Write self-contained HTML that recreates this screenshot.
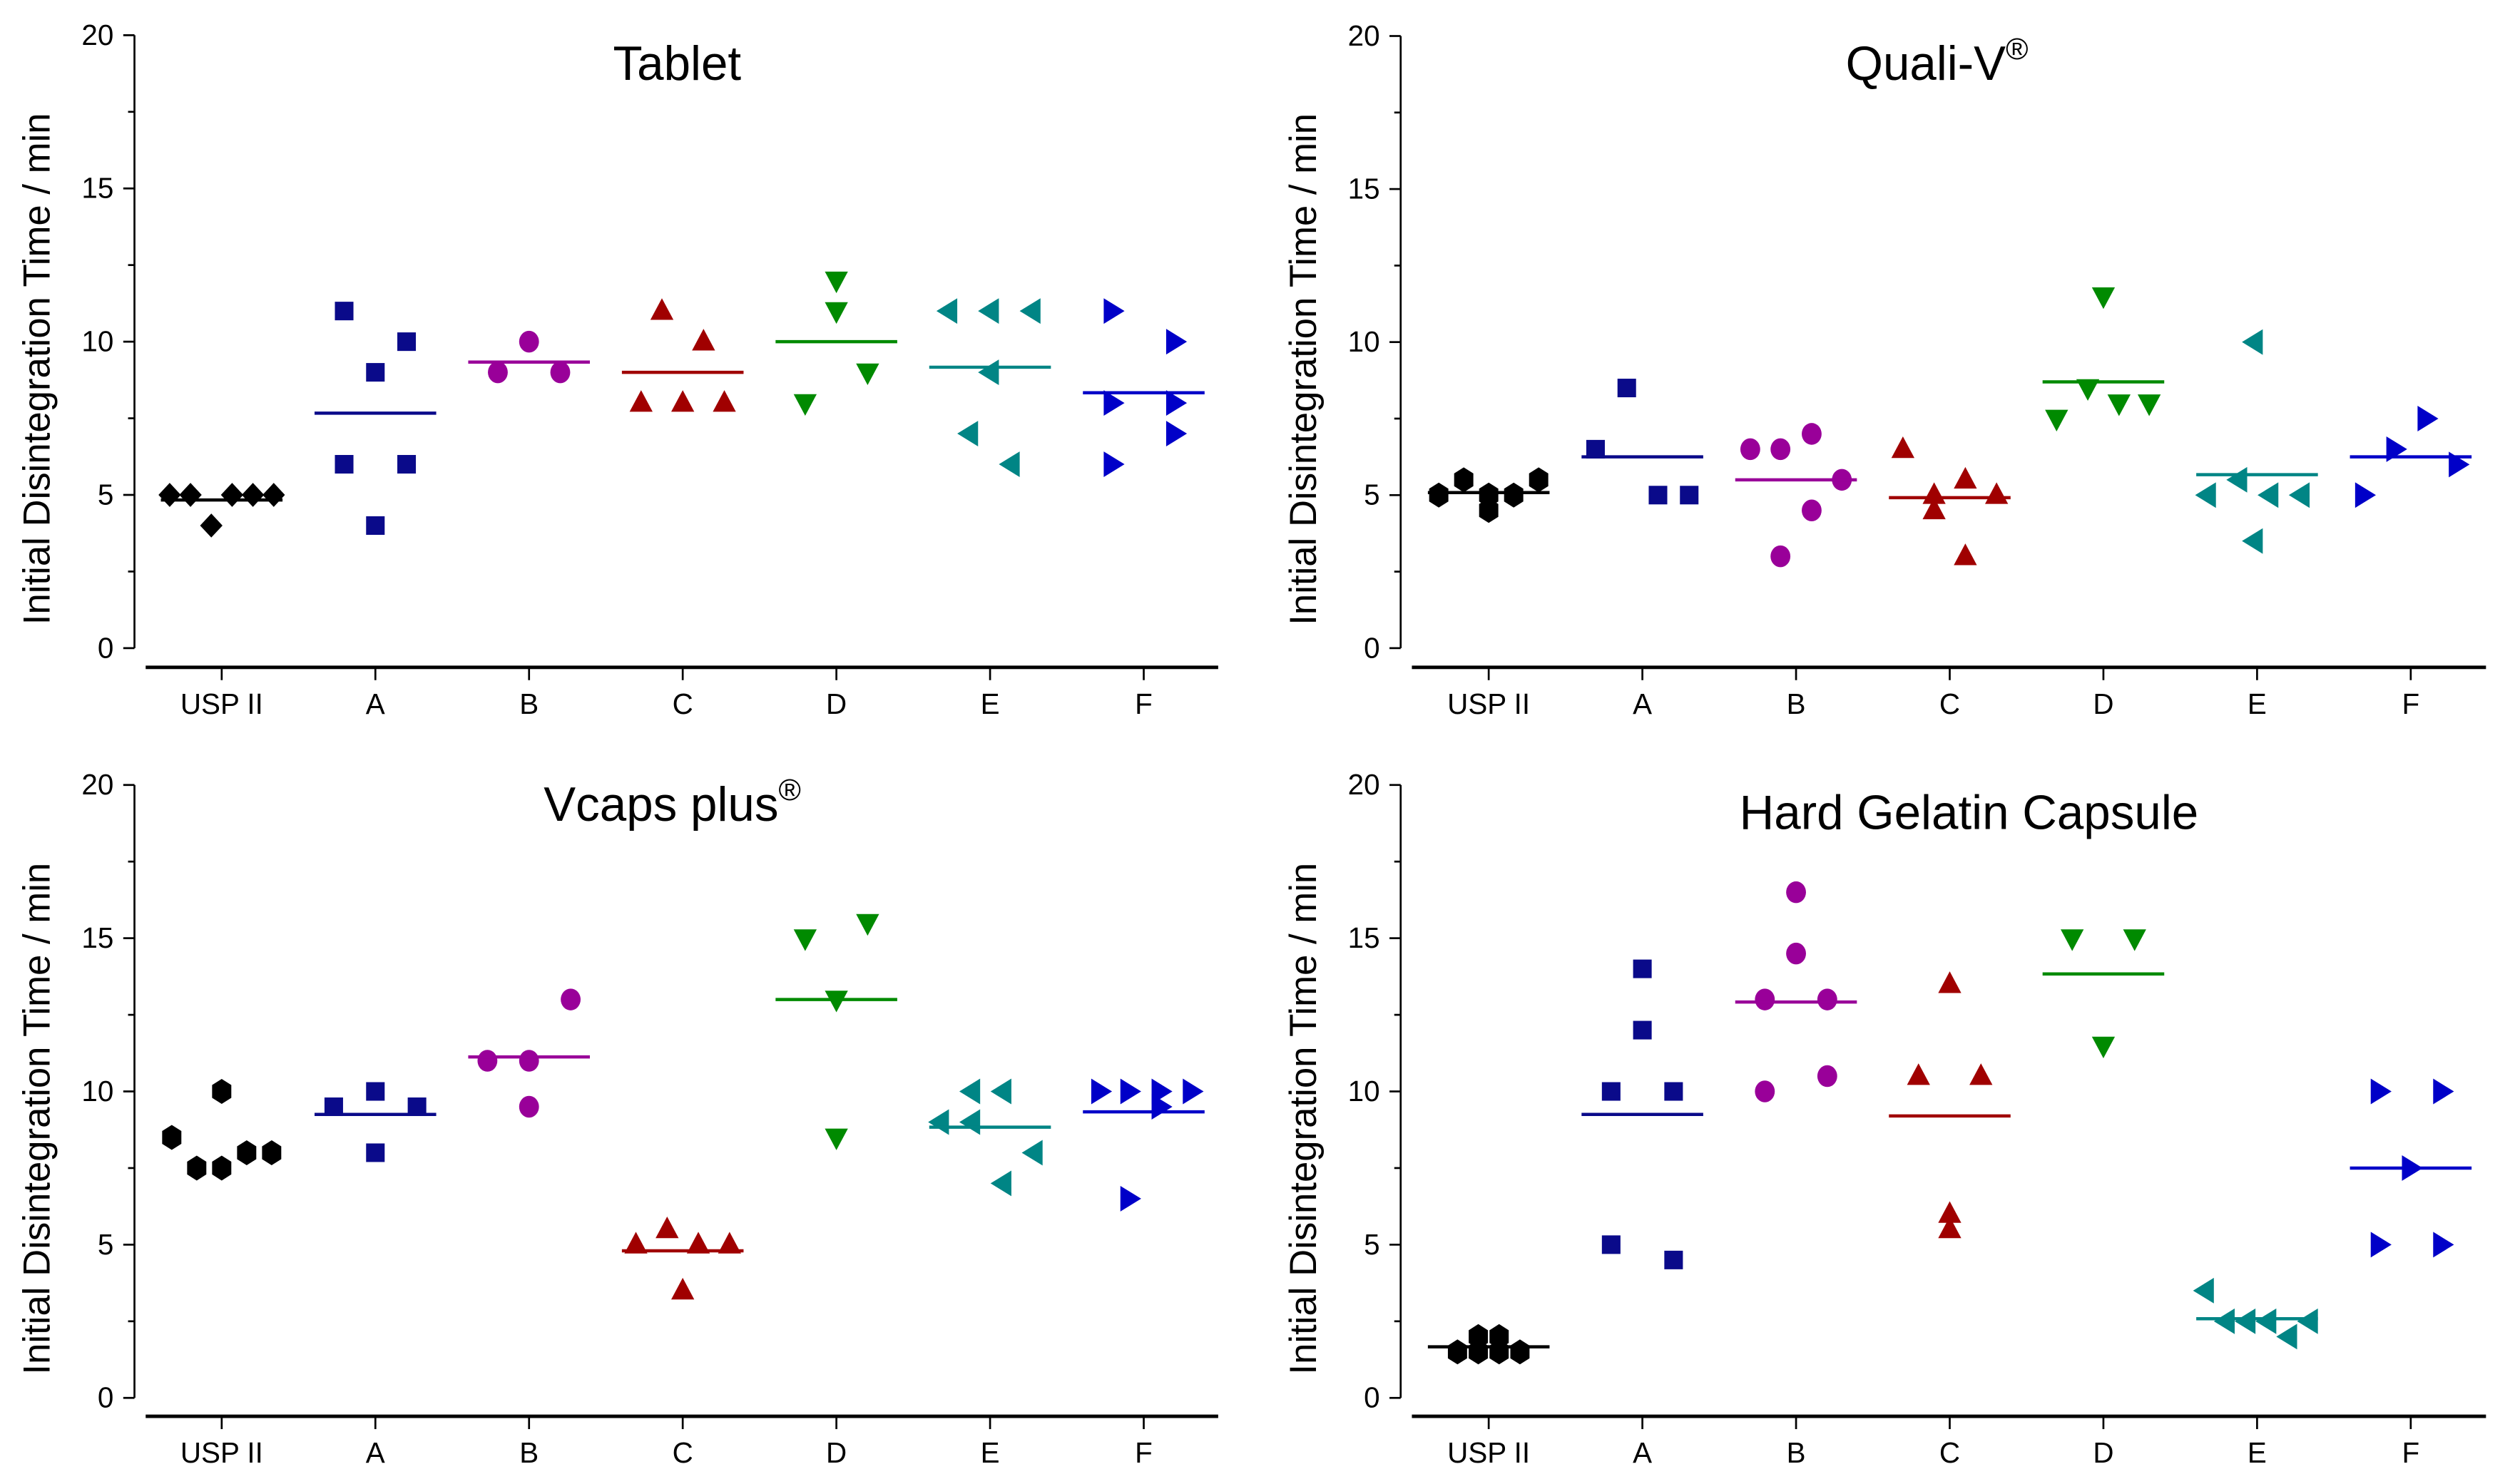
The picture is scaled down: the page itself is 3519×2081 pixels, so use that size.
<!DOCTYPE html>
<html><head><meta charset="utf-8"><style>
html,body{margin:0;padding:0;background:#fff;}
svg{display:block;}
text{font-family:"Liberation Sans",sans-serif;}
</style></head><body>
<svg id="fig" xmlns="http://www.w3.org/2000/svg" width="3519" height="2081" viewBox="0 0 1568 927.3" preserveAspectRatio="none">
<rect x="0" y="0" width="1568" height="927.3" fill="#fff"/>
</svg>
<script>
const categories = ["USP II","A","B","C","D","E","F"];
const yTicks = [0,5,10,15,20];
const colors = ["#000000","#0a0a8a","#990099","#a00000","#008a00","#008585","#0000c8"];
const markers = ["usp","square","circle","up","down","left","right"];

// Tablet
const tabletValues = [[5,5,4,5,5,5],[11,10,9,6,6,4],[10,9,9],[11,10,8,8,8],[12,11,9,8],[11,11,11,9,7,6],[11,10,8,8,7,6]];
const tabletJitter = [[-2.5,-1.5,-0.5,0.5,1.5,2.5],[-1.5,1.5,0,-1.5,1.5,0],[0,-1.5,1.5],[-1,1,-2,0,2],[0,0,1.5,-1.5],[-2,0,2,0,-1,1],[-1.5,1.5,-1.5,1.5,1.5,-1.5]];
// Quali-V
const qualiValues = [[5,5.5,5,4.5,5,5.5],[8.5,6.5,5,5],[6.5,6.5,7,5.5,4.5,3],[6.5,5.5,5,5,4.5,3],[11.5,8.5,8,8,7.5],[10,5.5,5,5,5,3.5],[7.5,6.5,6,5]];
const qualiJitter = [[-2.4,-1.2,0,0,1.2,2.4],[-0.75,-2.25,0.75,2.25],[-2.2,-0.75,0.75,2.2,0.75,-0.75],[-2.25,0.75,-0.75,2.25,-0.75,0.75],[0,-0.75,0.75,2.2,-2.25],[-0.15,-0.9,-2.4,0.6,2.1,-0.15],[0.75,-0.75,2.25,-2.25]];
// Vcaps plus
const vcapsValues = [[8.5,10,7.5,7.5,8,8],[10,9.5,9.5,8],[13,11,11,9.5],[5.5,5,5,5,3.5],[15.5,15,13,8.5],[10,10,9,9,8,7],[10,10,10,10,9.5,6.5]];
const vcapsJitter = [[-2.4,0,-1.2,0,1.2,2.4],[0,-2,2,0],[2,-2,0,0],[-0.75,-2.25,0.75,2.25,0],[1.5,-1.5,0,0],[-0.9,0.6,-2.4,-0.9,2.1,0.6],[-2.1,-0.7,0.8,2.3,0.8,-0.7]];
// Hard gelatin capsule
const hgcValues = [[1.5,2,1.5,2,1.5,1.5],[14,12,10,10,5,4.5],[16.5,14.5,13,13,10.5,10],[13.5,10.5,10.5,6,5.5],[15,15,11.5],[3.5,2.5,2.5,2.5,2.5,2],[10,10,7.5,5,5]];
const hgcJitter = [[-1.5,-0.5,-0.5,0.5,0.5,1.5],[0,0,-1.5,1.5,-1.5,1.5],[0,0,-1.5,1.5,1.5,-1.5],[0,-1.5,1.5,0,0],[-1.5,1.5,0],[-2.5,-1.5,-0.5,0.5,2.5,1.5],[-1.5,1.5,0,-1.5,1.5]];

const panels = [
 {name:"tablet", title:"Tablet", sup:"", values:tabletValues, jitter:tabletJitter, usp:"diamond", ax:84, x0:91, x1:761, c0:138.5, yTop:22, yBot:405, base:417, tx:423, ty:50, noMean:[]},
 {name:"quali-v", title:"Quali-V", sup:"®", values:qualiValues, jitter:qualiJitter, usp:"hex", ax:875, x0:882, x1:1553, c0:930, yTop:22.5, yBot:405, base:417, tx:1210, ty:50, noMean:[]},
 {name:"vcaps-plus", title:"Vcaps plus", sup:"®", values:vcapsValues, jitter:vcapsJitter, usp:"hex", ax:84, x0:91, x1:761, c0:138.5, yTop:490.5, yBot:873.5, base:885, tx:420, ty:513, noMean:[0]},
 {name:"hard-gelatin-capsule", title:"Hard Gelatin Capsule", sup:"", values:hgcValues, jitter:hgcJitter, usp:"hex", ax:875, x0:882, x1:1553, c0:930, yTop:490.5, yBot:873.5, base:885, tx:1230, ty:518, noMean:[]}
];
const NS="http://www.w3.org/2000/svg";
const svg=document.getElementById('fig');
function el(tag,attrs,parent){const e=document.createElementNS(NS,tag);for(const k in attrs)e.setAttribute(k,attrs[k]);(parent||svg).appendChild(e);return e;}

function marker(type,x,y,c,g){
  let e;
  if(type==="square"){e=el('rect',{x:x-5.8,y:y-5.8,width:11.6,height:11.6,fill:c},g);}
  else if(type==="circle"){e=el('ellipse',{cx:x,cy:y,rx:6.2,ry:6.8,fill:c},g);}
  else if(type==="diamond"){e=el('polygon',{points:`${x},${y-7.5} ${x+7},${y} ${x},${y+7.5} ${x-7},${y}`,fill:c},g);}
  else if(type==="hex"){e=el('polygon',{points:`${x-6},${y-4} ${x},${y-7.8} ${x+6},${y-4} ${x+6},${y+4} ${x},${y+7.8} ${x-6},${y+4}`,fill:c},g);}
  else if(type==="up"){e=el('polygon',{points:`${x},${y-8} ${x+7.2},${y+5.5} ${x-7.2},${y+5.5}`,fill:c},g);}
  else if(type==="down"){e=el('polygon',{points:`${x},${y+8} ${x+7.2},${y-5.5} ${x-7.2},${y-5.5}`,fill:c},g);}
  else if(type==="left"){e=el('polygon',{points:`${x-7.5},${y} ${x+5.5},${y-8} ${x+5.5},${y+8}`,fill:c},g);}
  else {e=el('polygon',{points:`${x+7.5},${y} ${x-5.5},${y-8} ${x-5.5},${y+8}`,fill:c},g);}
  return e;
}

panels.forEach(p=>{
  const g=el('g',{});
  
  
  const yS=v=>p.yBot-(v/20)*(p.yBot-p.yTop);
  const xS=i=>p.c0+96*i;
  const ya=el('line',{x1:p.ax,y1:p.yTop,x2:p.ax,y2:p.yBot,stroke:'#000','stroke-width':1.2},g);
  
  
  for(let v=0;v<=20;v+=2.5){
    const major=yTicks.includes(v);
    el('line',{x1:p.ax-(major?7:4),y1:yS(v),x2:p.ax,y2:yS(v),stroke:'#000','stroke-width':1.2},g);
  }
  yTicks.forEach(v=>{
    const t=el('text',{x:p.ax-13,y:yS(v)+6,'text-anchor':'end','font-size':18,fill:'#000'},g);
    t.textContent=v;
    
    
  });
  const yt=el('text',{x:0,y:0,'text-anchor':'middle','font-size':23.5,fill:'#000',transform:`translate(${p.ax-53},${(p.yTop+p.yBot)/2+17}) rotate(-90)`},g);
  yt.textContent='Initial Disintegration Time / min';
  
  
  const xa=el('line',{x1:p.x0,y1:p.base,x2:p.x1,y2:p.base,stroke:'#000','stroke-width':2.2},g);
  
  
  categories.forEach((c,i)=>{
    el('line',{x1:xS(i),y1:p.base,x2:xS(i),y2:p.base+8,stroke:'#000','stroke-width':1.2},g);
    const t=el('text',{x:xS(i),y:p.base+29,'text-anchor':'middle','font-size':18,fill:'#000'},g);
    t.textContent=c;
    
    
  });
  const tt=el('text',{x:p.tx,y:p.ty,'text-anchor':'middle','font-size':30,fill:'#000'},g);
  tt.textContent=p.title;
  if(p.sup){const s=el('tspan',{dy:-13,'font-size':19},tt);s.textContent=p.sup;}
  
  
  p.values.forEach((vals,i)=>{
    const col=colors[i];
    const mt=i===0?p.usp:markers[i];
    const sg=el('g',{},g);
    
    
    vals.forEach((v,k)=>{
      const m=marker(mt,xS(i)+p.jitter[i][k]*13,yS(v),col,sg);
      
      
    });
    if(!p.noMean.includes(i)){
      const mean=vals.reduce((a,b)=>a+b,0)/vals.length;
      const ml=el('line',{x1:xS(i)-38,y1:yS(mean),x2:xS(i)+38,y2:yS(mean),stroke:col,'stroke-width':2},sg);
      
      
    }
  });
});
</script>
</body></html>
